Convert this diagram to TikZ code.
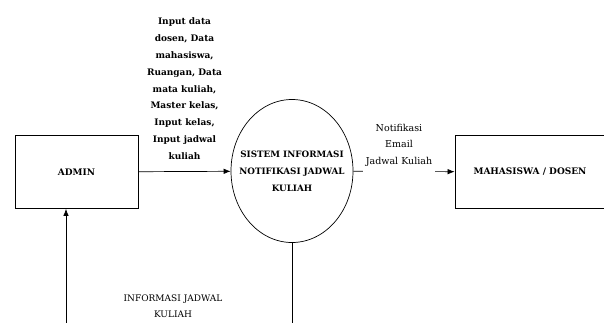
\documentclass[tikz,border=0pt]{standalone}
\usepackage{fontspec}
\setmainfont{DejaVu Serif}
\usetikzlibrary{arrows.meta,shapes}
\tikzstyle{entity}=[rectangle,draw,line width=0.8pt,minimum width=123pt,minimum height=73pt,font=\bfseries\fontsize{9}{17}\selectfont]
\tikzstyle{process}=[ellipse,draw,line width=0.7pt,minimum width=122pt,minimum height=143pt,inner xsep=-20pt,inner ysep=0pt,align=center,font=\bfseries\fontsize{8.8}{17}\selectfont]
\tikzstyle{flow} = [draw,line width=0.7pt,-{Latex[length=7pt,width=5.5pt]}]
\tikzstyle{line} = [draw,line width=0.7pt]
\tikzstyle{flowtext} = [align=center,font=\bfseries\fontsize{9}{16.9}\selectfont]
\tikzstyle{notetext} = [align=center,font=\fontsize{9}{16.5}\selectfont]

\begin{document}
\begin{tikzpicture}[x=1pt,y=-1pt]
    \useasboundingbox (0,0) rectangle (604,322);
    \clip (0,0) rectangle (604,322);

    \node[entity] (admin) at (76.5,172) {ADMIN};
    \node[process] (sis) at (292,171) {SISTEM INFORMASI\\NOTIFIKASI JADWAL\\KULIAH};
    \node[entity,minimum width=150pt] (mhs) at (530,172) {MAHASISWA / DOSEN};

    \coordinate (out) at (292,340);
    \coordinate (in) at (66,340);

    % data flows
    \path[flow] (admin) -- node[flowtext,above=8pt] {Input data\\dosen, Data\\mahasiswa,\\Ruangan, Data\\mata kuliah,\\Master kelas,\\Input kelas,\\Input jadwal\\kuliah} (sis);
    \path[flow] (sis) -- (mhs);
    \node[notetext,font=\fontsize{9.5}{16.5}\selectfont,fill=white,inner xsep=3pt] (notif) at (399,155) {Notifikasi\\Email\\Jadwal Kuliah\\\strut};

    \path[line] (sis.south) -- (out);
    \path[flow] (in) -- (in |- admin.south);

    \node[notetext,font=\fontsize{9}{15.5}\selectfont] (info) at (173,306) {INFORMASI JADWAL\\KULIAH};

\end{tikzpicture}
\end{document}
